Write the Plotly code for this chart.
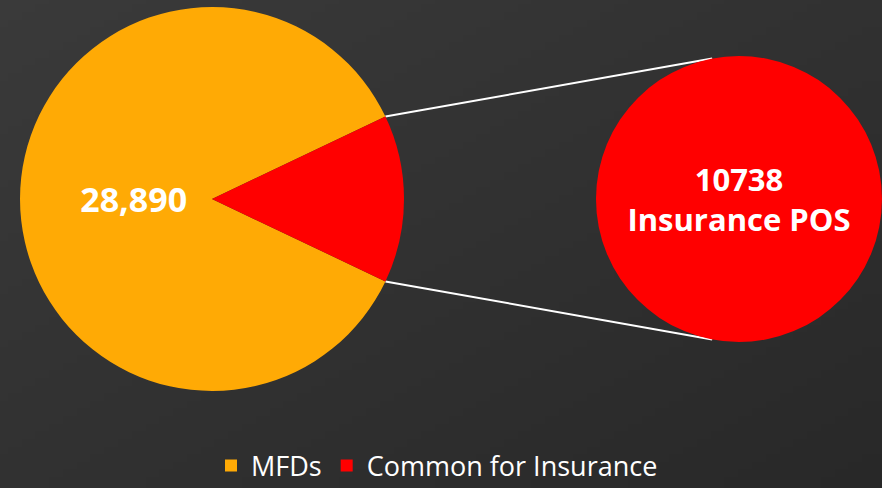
import math, base64, struct, zlib
import plotly.graph_objects as go

# data
labels = ["MFDs", "Common for Insurance"]
values = [28890, 4750]
main_text = ["\u00a0\u00a0\u00a0\u00a028,890", ""]
sub_labels = ["Insurance POS"]
sub_values = [10738]
colors = ["#FFAA05", "#FF0000"]

W, H = 882, 488

# gradient background PNG
def make_png(w, h, c0, c1):
    rows = b""
    for y in range(h):
        row = b"\x00"
        for x in range(w):
            t = (x / (w - 1) * 0.5 + y / (h - 1) * 0.5)
            px = bytes(int(round(c0[i] + (c1[i] - c0[i]) * t)) for i in range(3))
            row += px
        rows += row
    def chunk(tag, data):
        c = struct.pack(">I", len(data)) + tag + data
        return c + struct.pack(">I", zlib.crc32(tag + data) & 0xffffffff)
    png = b"\x89PNG\r\n\x1a\n" + chunk(b"IHDR", struct.pack(">IIBBBBB", w, h, 8, 2, 0, 0, 0))
    png += chunk(b"IDAT", zlib.compress(rows)) + chunk(b"IEND", b"")
    return "data:image/png;base64," + base64.b64encode(png).decode()

bg = make_png(64, 64, (58, 58, 58), (40, 40, 40))

# geometry (pixels)
c1x, c1y, R1 = 212, 199, 192
c2x, c2y, R2 = 739, 199, 143
frac = values[1] / sum(values)
half = math.pi * frac  # half angle of red slice (radians)
rot = 90 + math.degrees(half)

def clamp(v):
    return max(0.0, min(1.0, v))

fig = go.Figure()
fig.add_trace(go.Pie(
    labels=labels, values=values, sort=False, direction="clockwise", rotation=rot,
    marker=dict(colors=colors, line=dict(width=0)),
    text=main_text, textinfo="text", textposition="inside", insidetextorientation="horizontal",
    textfont=dict(family="Open Sans", size=34, color="white", weight="bold"),
    hole=0,
    domain=dict(x=[clamp((c1x - R1) / W), clamp((c1x + R1) / W)],
                y=[clamp((H - c1y - R1) / H), clamp((H - c1y + R1) / H)]),
    showlegend=True,
))
fig.add_trace(go.Pie(
    labels=sub_labels, values=sub_values, sort=False,
    marker=dict(colors=[colors[1]], line=dict(width=0)),
    text=[f"{sub_values[0]}<br>{sub_labels[0]}"], textinfo="text", textposition="inside",
    textfont=dict(family="Open Sans", size=31, color="white", weight="bold"),
    domain=dict(x=[clamp((c2x - R2) / W), clamp((c2x + R2) / W)],
                y=[clamp((H - c2y - R2) / H), clamp((H - c2y + R2) / H)]),
    showlegend=False,
))

# connector lines
a2 = math.radians(10.8)
for s in (1, -1):
    x0 = c1x + R1 * math.cos(half)
    y0 = c1y - s * R1 * math.sin(half)
    x1 = c2x - R2 * math.sin(a2)
    y1 = c2y - s * R2 * math.cos(a2)
    fig.add_shape(type="line", xref="paper", yref="paper",
                  x0=x0 / W, y0=1 - y0 / H, x1=x1 / W, y1=1 - y1 / H,
                  line=dict(color="white", width=2), layer="below")

fig.update_layout(
    width=W, height=H,
    margin=dict(l=0, r=0, t=0, b=0, autoexpand=False),
    paper_bgcolor="#313131", plot_bgcolor="#313131",
    images=[dict(source=bg, xref="paper", yref="paper", x=0, y=1, sizex=1, sizey=1,
                 sizing="stretch", layer="below", xanchor="left", yanchor="top")],
    legend=dict(orientation="h", x=437 / W, xanchor="center", y=1 - 466 / H, yanchor="middle",
                font=dict(family="Open Sans", size=27, color="white"),
                itemwidth=30, bgcolor="rgba(0,0,0,0)"),
)
fig.write_html("out.html", config={"displayModeBar": False},
               post_script="document.body.style.margin='0';document.body.style.overflow='hidden';")
